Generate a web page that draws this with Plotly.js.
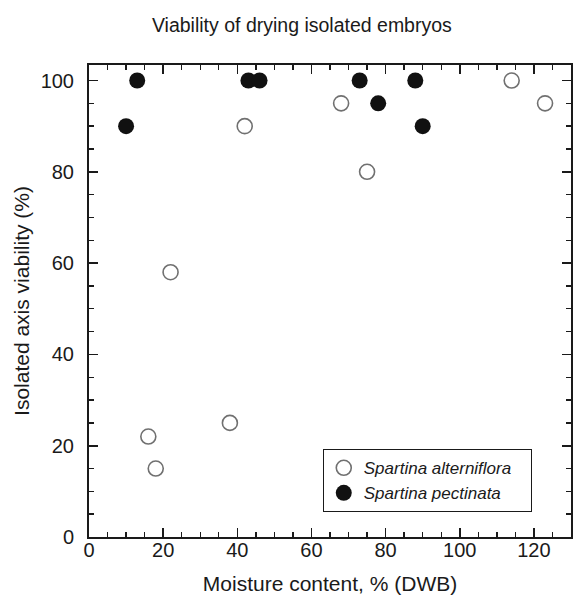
<!DOCTYPE html>
<html>
<head>
<meta charset="utf-8">
<script src="https://cdn.plot.ly/plotly-3.0.1.min.js"></script>
<style>
  html, body { margin: 0; padding: 0; background: #fff; }
  #chart { width: 575px; height: 601px; }
</style>
</head>
<body>
<div id="chart"></div>
<script>
// Data
const alternifloraX = [16, 18, 22, 38, 42, 68, 75, 114, 123];
const alternifloraY = [22, 15, 58, 25, 90, 95, 80, 100, 95];
const pectinataX = [10, 13, 43, 46, 73, 78, 88, 90];
const pectinataY = [90, 100, 100, 100, 100, 95, 100, 90];
const seriesNames = ['Spartina alterniflora', 'Spartina pectinata'];
const xTickVals = [0, 20, 40, 60, 80, 100, 120];
const yTickVals = [0, 20, 40, 60, 80, 100];

const FONT = 'Liberation Sans, Arial, Helvetica, sans-serif';
const INK = '#1a1a1a';

const traces = [
  {
    x: alternifloraX, y: alternifloraY, name: '<i>' + seriesNames[0] + '</i>&nbsp;&nbsp;&nbsp;',
    type: 'scatter', mode: 'markers',
    marker: { symbol: 'circle', size: 15, color: '#ffffff', line: { color: '#707070', width: 1.6 } },
    cliponaxis: false
  },
  {
    x: pectinataX, y: pectinataY, name: '<i>' + seriesNames[1] + '</i>',
    type: 'scatter', mode: 'markers',
    marker: { symbol: 'circle', size: 16, color: '#111111', line: { color: '#111111', width: 0 } },
    cliponaxis: false
  }
];

const axisCommon = {
  showgrid: false, zeroline: false,
  showline: true, linecolor: INK, linewidth: 2, mirror: 'allticks',
  ticks: 'inside', ticklen: 9, tickwidth: 1.6, tickcolor: INK,
  tickfont: { family: FONT, size: 20, color: INK },
  minor: { dtick: 5, ticks: 'inside', ticklen: 5, tickwidth: 1.4, tickcolor: INK, showgrid: false }
};

const layout = {
  width: 575, height: 601,
  margin: { l: 89, r: 4, t: 65, b: 64 },
  paper_bgcolor: '#ffffff', plot_bgcolor: '#ffffff',
  font: { family: FONT, color: INK },
  showlegend: true,
  title: {
    text: 'Viability of drying isolated embryos',
    font: { family: FONT, size: 19.5, color: INK },
    x: 0.525, xref: 'container', xanchor: 'center',
    y: 0.958, yref: 'container', yanchor: 'middle'
  },
  xaxis: Object.assign({}, axisCommon, {
    range: [0, 130], tickvals: xTickVals,
    ticklabelstandoff: -6,
    title: { text: 'Moisture content, % (DWB)', font: { family: FONT, size: 21, color: INK }, standoff: 16 }
  }),
  yaxis: Object.assign({}, axisCommon, {
    range: [0, 103.4], tickvals: yTickVals,
    ticklabelstandoff: 9,
    title: { text: 'Isolated axis viability (%)', font: { family: FONT, size: 21, color: INK }, standoff: 5 }
  }),
  legend: {
    x: 0.485, y: 0.186, xanchor: 'left', yanchor: 'top',
    bgcolor: '#ffffff', bordercolor: INK, borderwidth: 1,
    font: { family: FONT, size: 17, color: INK },
    itemsizing: 'trace', tracegroupgap: 0
  }
};

Plotly.newPlot('chart', traces, layout, { displayModeBar: false, staticPlot: true });
</script>
</body>
</html>
